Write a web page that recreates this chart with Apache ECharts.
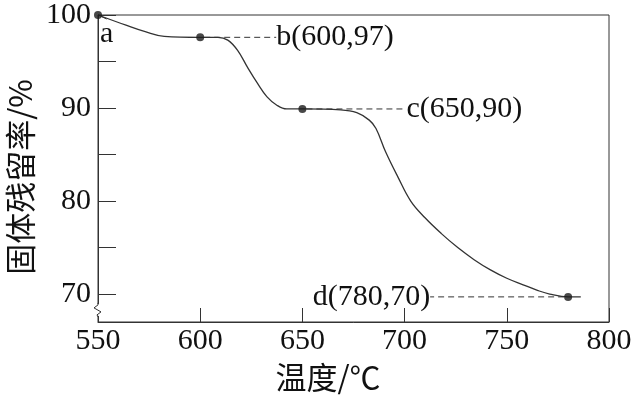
<!DOCTYPE html>
<html>
<head>
<meta charset="utf-8">
<script src="https://cdn.jsdelivr.net/npm/echarts@6/dist/echarts.min.js"></script>
<style>html,body{margin:0;padding:0;background:#fff}#c{width:635px;height:395px}</style>
</head>
<body>
<div id="c"></div>
<script>
const xTickValues = [550, 600, 650, 700, 750, 800];
const yTickValues = [70, 75, 80, 85, 90, 95, 100];
const yLabelValues = [70, 80, 90, 100];
const curveTemp = [550, 563.7, 573.1, 582.4, 600, 608.7, 613.5, 618.3, 623.1, 627.9, 632.7, 637.5, 642.3, 650, 668.7, 676.6, 682.7, 686, 690.7, 696.7, 703, 710, 718, 726, 734, 742, 750, 758, 765, 771, 780, 786.2];
const curveRetention = [100, 98.9, 98.2, 97.7, 97.6, 97.6, 97.3, 96.2, 94.4, 92.7, 91.2, 90.3, 89.9, 89.9, 89.8, 89.5, 88.7, 87.8, 85.3, 82.6, 80.0, 78.2, 76.5, 75.0, 73.7, 72.6, 71.7, 71.0, 70.4, 70.0, 69.7, 69.7];
const pointTemp = [550, 600, 650, 780];
const pointRetention = [100, 97.6, 89.9, 69.7];
const pointLabels = ['a', 'b(600,97)', 'c(650,90)', 'd(780,70)'];
const xTitle = '温度/℃';
const yTitle = '固体残留率/%';

const ink = '#111';
const serif = '"Liberation Serif", "Times New Roman", serif';
const cjk = '"Noto Sans CJK SC", sans-serif';

const chart = echarts.init(document.getElementById('c'), null, {renderer: 'canvas'});

const labelPos = ['a', 'right', 'right', 'left'];
const labelShift = [0, 67, 95, -129];

function titles(extra) {
  return [
    {type: 'text', x: 328, y: 377, style: {text: xTitle, fill: ink, font: '31px ' + cjk, align: 'center', verticalAlign: 'middle'}},
    {type: 'text', x: 20, y: 177, rotation: Math.PI / 2, style: {text: yTitle, fill: ink, font: '31px ' + cjk, align: 'center', verticalAlign: 'middle'}}
  ].concat(extra || []);
}

const option = {
  animation: false,
  backgroundColor: '#fff',
  grid: {left: 98, right: 26, top: 15, bottom: 73, show: true, borderColor: '#333', borderWidth: 1, backgroundColor: 'transparent'},
  xAxis: {
    type: 'value', min: xTickValues[0], max: xTickValues[xTickValues.length - 1], interval: 50,
    axisLine: {show: true, lineStyle: {color: '#333', width: 1}},
    axisTick: {show: true, inside: true, length: 14, lineStyle: {color: '#333', width: 1}},
    axisLabel: {color: ink, fontFamily: serif, fontSize: 30, margin: 4},
    splitLine: {show: false}
  },
  yAxis: {
    type: 'value', min: 67, max: 100,
    axisLine: {show: true, lineStyle: {color: '#333', width: 1}},
    axisTick: {show: true, inside: true, length: 18, customValues: yTickValues, lineStyle: {color: '#333', width: 1}},
    axisLabel: {color: ink, fontFamily: serif, fontSize: 30, margin: 7, customValues: yLabelValues},
    splitLine: {show: false}
  },
  series: [
    {
      type: 'line', smooth: 0.4, showSymbol: false, symbol: 'none',
      lineStyle: {color: '#333', width: 1.3},
      data: curveTemp.map((t, i) => [t, curveRetention[i]]),
      z: 2
    },
    {
      type: 'scatter', symbolSize: 8, itemStyle: {color: '#1a1a1a'},
      data: pointTemp.map((t, i) => ({
        value: [t, pointRetention[i]],
        label: {
          show: true,
          formatter: pointLabels[i],
          position: labelPos[i] === 'a' ? [6, 8] : labelPos[i],
          distance: 5,
          color: ink, opacity: 1, fontFamily: serif, fontSize: 30
        }
      })),
      labelLayout: function (p) {
        const s = labelShift[p.dataIndex];
        return s ? {dx: s} : {};
      },
      labelLine: {show: true, lineStyle: {color: '#333', width: 1, type: [6, 4]}},
      z: 3
    }
  ],
  graphic: titles()
};
chart.setOption(option);

// axis break mark on the y axis
const p = chart.convertToPixel({gridIndex: 0}, [550, 68.3]);
const bx = p[0], by = p[1];
chart.setOption({
  graphic: titles([
    {type: 'rect', shape: {x: bx - 3, y: by - 6, width: 6, height: 12}, style: {fill: '#fff'}, z: 100},
    {type: 'polyline', shape: {points: [[bx, by - 7], [bx, by - 5], [bx - 4, by - 2], [bx + 3, by + 2], [bx - 1, by + 5], [bx, by + 7]]}, style: {stroke: '#333', lineWidth: 1, fill: null}, z: 101}
  ])
});
</script>
</body>
</html>
